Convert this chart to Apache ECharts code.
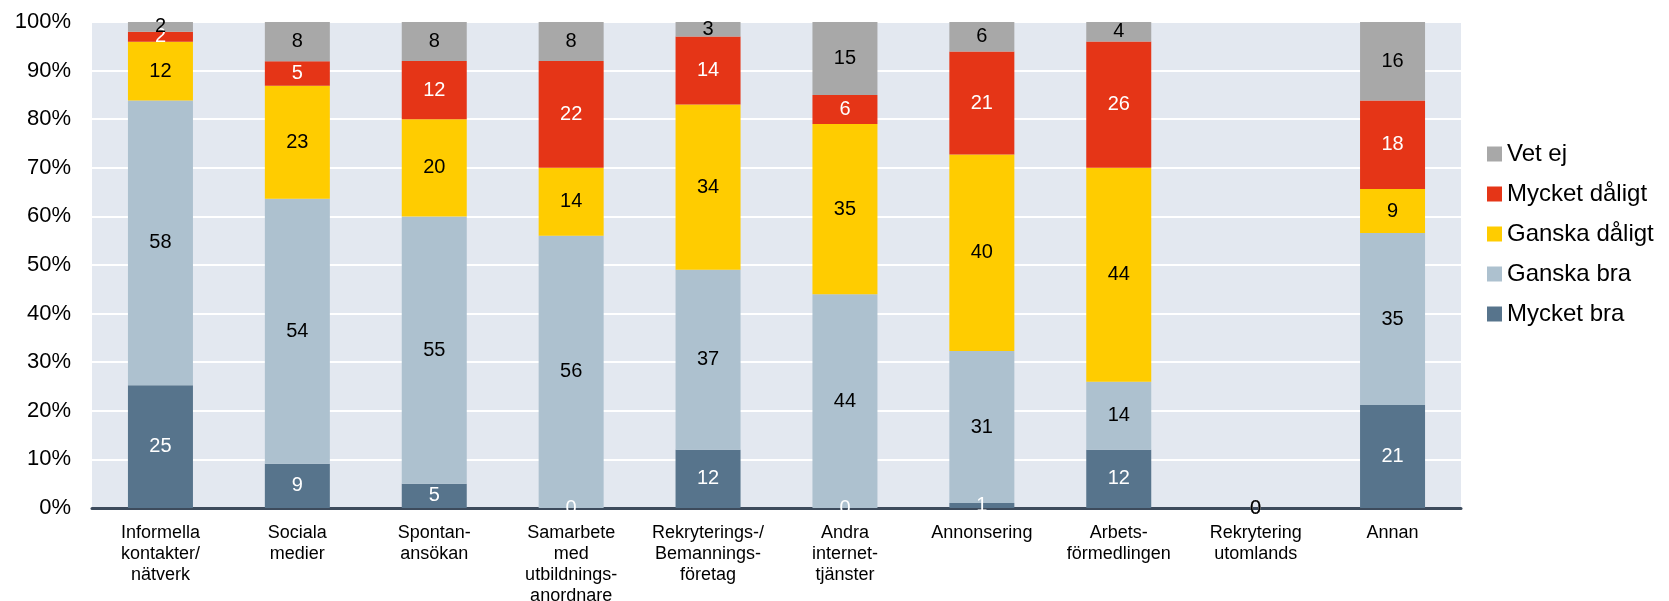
<!DOCTYPE html>
<html>
<head>
<meta charset="utf-8">
<script src="https://cdn.jsdelivr.net/npm/echarts@6/dist/echarts.min.js"></script>
<style>html,body{margin:0;padding:0;background:#fff}#c{width:1669px;height:601px}</style>
</head>
<body>
<div id="c"></div>
<script>
const categories = ["Informella\nkontakter/\nnätverk","Sociala\nmedier","Spontan-\nansökan","Samarbete\nmed\nutbildnings-\nanordnare","Rekryterings-/\nBemannings-\nföretag","Andra\ninternet-\ntjänster","Annonsering","Arbets-\nförmedlingen","Rekrytering\nutomlands","Annan"];
const mycketBra    = [25, 9, 5, 0, 12, 0, 1, 12, 0, 21];
const ganskaBra    = [58, 54, 55, 56, 37, 44, 31, 14, 0, 35];
const ganskaDaligt = [12, 23, 20, 14, 34, 35, 40, 44, 0, 9];
const mycketDaligt = [2, 5, 12, 22, 14, 6, 21, 26, 0, 18];
const vetEj        = [2, 8, 8, 8, 3, 15, 6, 4, 0, 16];
const legendOrder  = ['Vet ej','Mycket dåligt','Ganska dåligt','Ganska bra','Mycket bra'];

const seriesDefs = [
  {name:'Mycket bra', data:mycketBra, color:'#57748c', label:'#ffffff'},
  {name:'Ganska bra', data:ganskaBra, color:'#adc1cf', label:'#000000'},
  {name:'Ganska dåligt', data:ganskaDaligt, color:'#ffcc00', label:'#000000'},
  {name:'Mycket dåligt', data:mycketDaligt, color:'#e53517', label:'#ffffff'},
  {name:'Vet ej', data:vetEj, color:'#a8a8a8', label:'#000000'}
];
const totals = categories.map((c,i)=>seriesDefs.reduce((s,d)=>s+d.data[i],0));

const FF = 'Liberation Sans, Arial, sans-serif';
const chart = echarts.init(document.getElementById('c'));
chart.setOption({
  animation:false,
  textStyle:{fontFamily:FF},
  grid:{left:92,right:208,top:22,bottom:93,show:true,backgroundColor:'#e3e8f0',borderWidth:0,
    containLabel:false, outerBoundsMode:'none'},
  legend:{
    orient:'vertical', left:1482, top:137, itemWidth:15, itemHeight:15, itemGap:16,
    icon:'rect',
    data:legendOrder,
    textStyle:{fontSize:24,color:'#000',fontFamily:FF}
  },
  xAxis:{
    type:'category', data:categories,
    axisLine:{show:true,lineStyle:{color:'#3d4b5c',width:3}},
    axisTick:{show:false},
    axisLabel:{fontSize:18,color:'#000',lineHeight:21,margin:15,interval:0,fontFamily:FF}
  },
  yAxis:{
    type:'value', min:0, max:100, interval:10,
    axisLine:{show:false}, axisTick:{show:false},
    axisLabel:{fontSize:22,color:'#000',margin:21,formatter:v=>v+'%',fontFamily:FF},
    splitLine:{show:true,lineStyle:{color:'#ffffff',width:2}}
  },
  series: seriesDefs.map(d=>({
    name:d.name, type:'bar', stack:'all', barWidth:65,
    itemStyle:{color:d.color},
    data:d.data.map((v,i)=>totals[i]>0 ? v/totals[i]*100 : 0),
    label:{show:true,position:'inside',color:d.label,fontSize:20,fontFamily:FF,
      formatter:p=>String(d.data[p.dataIndex])}
  }))
});
</script>
</body>
</html>
